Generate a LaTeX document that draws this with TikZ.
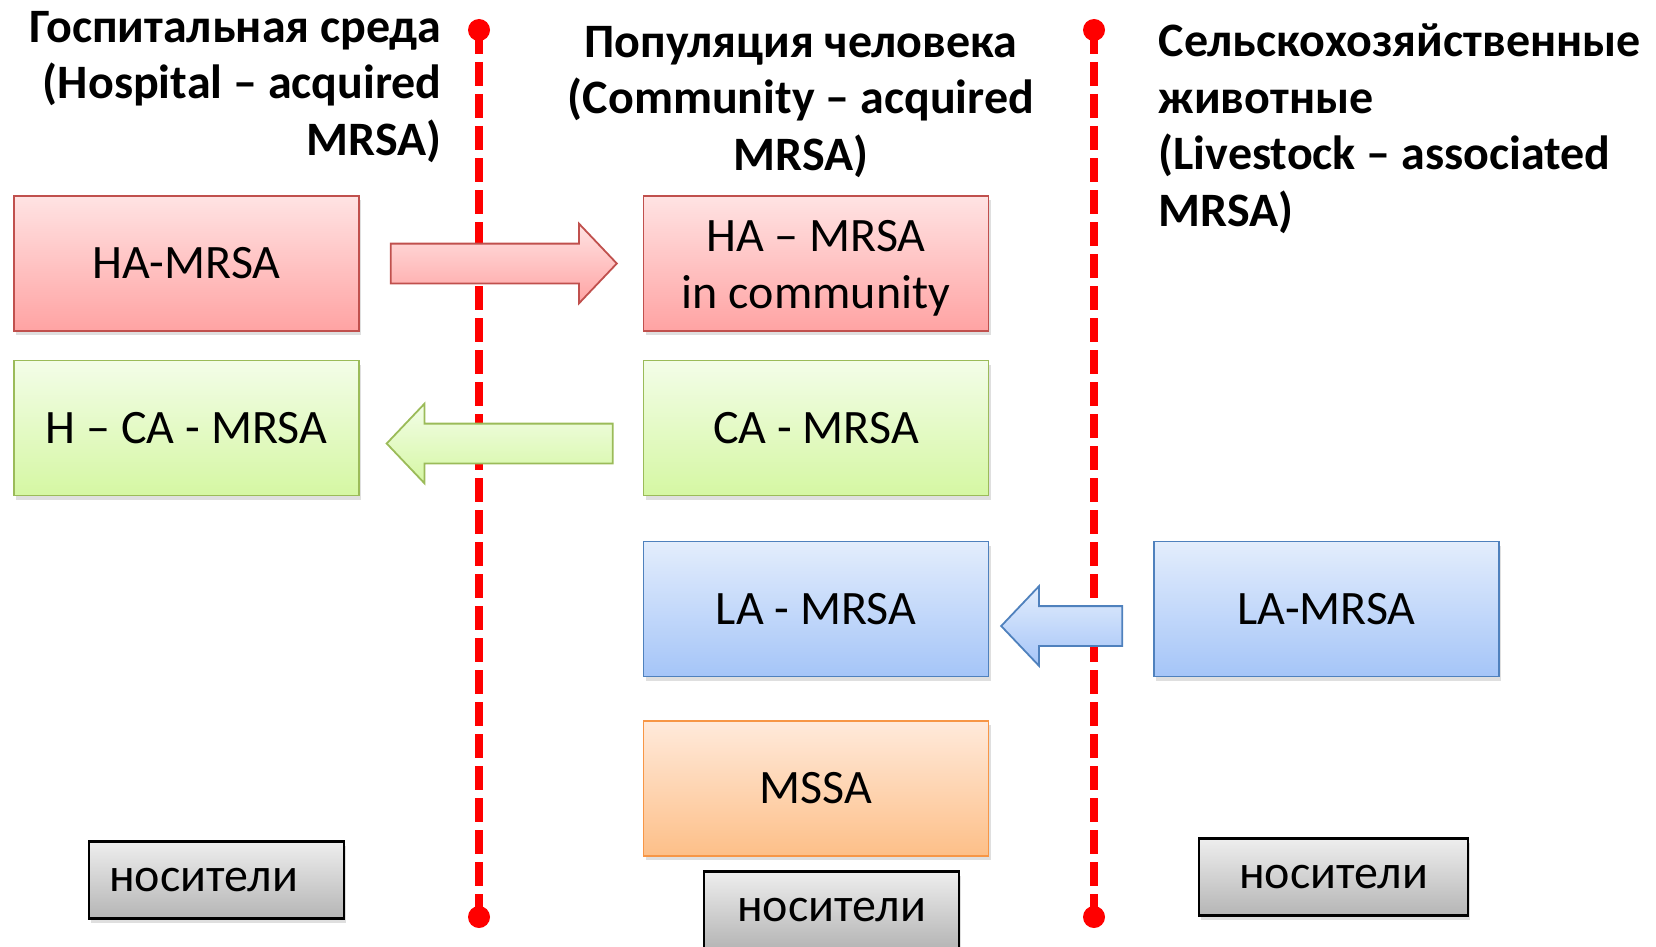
\documentclass[tikz,border=0pt]{standalone}
\usepackage{fontspec}
\setmainfont{Carlito}
\usetikzlibrary{shapes.arrows, calc, shadows}
\definecolor{hatop}{HTML}{FFE3E3}
\definecolor{habot}{HTML}{FFA3A3}
\definecolor{haline}{HTML}{C0504D}
\definecolor{catop}{HTML}{F3FDE8}
\definecolor{cabot}{HTML}{D5F7A3}
\definecolor{caline}{HTML}{9BBB59}
\definecolor{latop}{HTML}{E3EDFC}
\definecolor{labot}{HTML}{A5C5F8}
\definecolor{laline}{HTML}{4F81BD}
\definecolor{mstop}{HTML}{FFEADB}
\definecolor{msbot}{HTML}{FDBF88}
\definecolor{msline}{HTML}{F79646}
\definecolor{nostop}{HTML}{EEEEEE}
\definecolor{nosbot}{HTML}{B5B5B5}
\definecolor{nosline}{HTML}{000000}

\begin{document}
\begin{tikzpicture}[
  x=1pt, y=-1pt,
  heading/.style={inner sep=0, font=\fontsize{48}{56.5}\selectfont\bfseries},
  strain/.style={rectangle, draw=#1line, top color=#1top, bottom color=#1bot, line width=1.8pt, minimum width=345pt, minimum height=135pt, align=center, font=\fontsize{48}{57}\selectfont, drop shadow={shadow xshift=2pt, shadow yshift=-4pt, opacity=0.25}},
  carrier/.style={strain=nos, line width=2.2pt, minimum width=255pt, minimum height=77pt},
  blockarr/.style={single arrow, draw=#1line, top color=#1top, bottom color=#1bot, line width=1.8pt, inner xsep=0, inner ysep=19pt, single arrow head extend=20pt, single arrow tip angle=93, minimum width=78pt, anchor=tail},
  divider/.style={red, line width=8.3pt, dash pattern=on 23.7pt off 8.3pt},
  dot/.style={circle, fill=red, inner sep=0, minimum size=22pt},
]
  \useasboundingbox (0,0) rectangle (1656,947);

  % Headings
  \node[heading, anchor=north east, align=right] (hosp) at (441.7, 11) {Госпитальная среда\\(Hospital – acquired\\MRSA)};
  \node[heading, anchor=north, align=center] (comm) at (801, 26) {Популяция человека\\(Community – acquired\\MRSA)};
  \node[heading, anchor=north west, align=left] (farm) at (1158.5, 24) {Сельскохозяйственные\\животные\\(Livestock – associated\\MRSA)};

  % Dividers
  \node[dot] (d1t) at (479, 30) {};
  \node[dot] (d1b) at (479, 917) {};
  \node[dot] (d2t) at (1094, 30) {};
  \node[dot] (d2b) at (1094, 917) {};
  \draw[divider] (d1t.center) -- (d1b.center);
  \draw[divider] (d2t.center) -- (d2b.center);

  % Hospital
  \node[strain=ha] (ha) at (186.5, 263.5) {HA-MRSA};
  \node[strain=ca] (hca) at (186.5, 428) {H – CA - MRSA};
  \node[carrier] (nos1) at (216.5, 880) {носители\hspace{26pt}};

  % Community
  \node[strain=ha] (hacom) at (816, 263.5) {\rule{0pt}{41pt}HA – MRSA\\in community};
  \node[strain=ca] (ca) at (816, 428) {CA - MRSA};
  \node[strain=la] (la) at (816, 609) {LA - MRSA};
  \node[strain=ms] (mssa) at (816, 788.5) {MSSA};
  \node[carrier] (nos2) at (831.5, 910) {носители};

  % Livestock
  \node[strain=la] (laanim) at (1326.5, 609) {LA-MRSA};
  \node[carrier, minimum width=269pt] (nos3) at (1333.5, 877) {носители};

  % Transfers
  \node[blockarr=ha, minimum height=226pt] (tr1) at ($(ha.east)+(30,0)$) {};
  \node[blockarr=ca, minimum height=226pt, shape border rotate=180] (tr2) at ($(ca.west)+(-29,15.5)$) {};
  \node[blockarr=la, minimum height=121pt, shape border rotate=180] (tr3) at ($(laanim.west)+(-30,17)$) {};
\end{tikzpicture}
\end{document}
